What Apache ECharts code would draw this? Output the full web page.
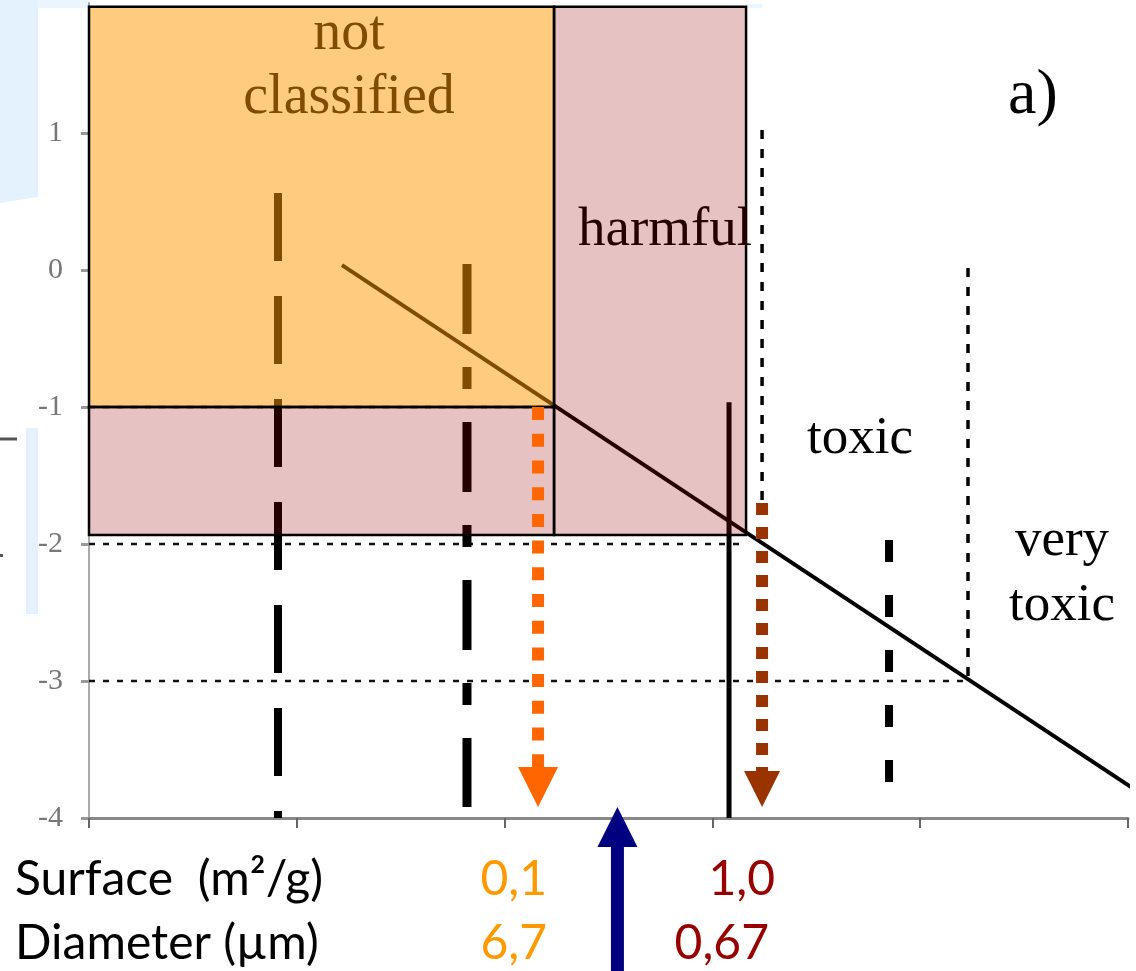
<!DOCTYPE html>
<html><head><meta charset="utf-8">
<script src="https://cdn.jsdelivr.net/npm/echarts@6/dist/echarts.min.js"></script>
<style>html,body{margin:0;padding:0;background:#fff}#chart{width:1136px;height:971px}</style>
</head><body><div id="chart"></div>
<script>
// ---------- data ----------
const xTickValues = [0, 1, 2, 3, 4, 5];
const yTickValues = [-4, -3, -2, -1, 0, 1];
// classification zones: [xFrom, xTo, yFrom, yTo]
const zoneNames = ['not classified', 'harmful (low)', 'harmful'];
const zoneBounds = [
  [0, 2.238, -1, 1.923],
  [0, 2.238, -1.934, -1],
  [2.238, 3.162, -1.934, 1.923]
];
const diagonalLine = [[1.2175, 0.036], [5.04, -3.80]];
const longDashLine = [[0.9095, 0.562], [0.9095, -4.0]];
const dashDotLine = [[1.819, 0.044], [1.819, -3.92]];
const shortDashLine = [[3.85, -1.971], [3.85, -3.774]];
const dottedLineA = [[3.239, 1.022], [3.239, -1.72]];
const dottedLineB = [[4.23, 0.015], [4.23, -3.0]];
const solidVertical = [[3.08, -0.964], [3.08, -4.0]];
const levelMinus1 = [[0, -1], [2.238, -1]];
const levelMinus2 = [[0, -2], [3.162, -2]];
const levelMinus3 = [[0, -3], [4.23, -3]];
const orangeArrow = [[2.161, -1.0], [2.161, -3.628]];
const orangeArrowHead = [[2.161, -3.774]];
const brownArrow = [[3.239, -1.70], [3.239, -3.657]];
const brownArrowHead = [[3.239, -3.788]];
const blueArrow = [[2.543, -5.15], [2.543, -4.2]];
const blueArrowHead = [[2.543, -4.066]];
const rowLabels = ['Surface  (m\u00b2/g)', 'Diameter (\u00b5m)'];
const surfaceValues = ['0,1', '1,0'];
const diameterValues = ['6,7', '0,67'];
const classLabels = ['not\nclassified', 'harmful', 'toxic', 'very\ntoxic', 'a)'];

// ---------- chart ----------
const chart = echarts.init(document.getElementById('chart'), null, {renderer: 'canvas'});
const zoneColors = ['rgba(255,153,0,0.5)', 'rgba(153,0,0,0.24)', 'rgba(153,0,0,0.24)'];

function lineSeries(name, data, color, width, type, z) {
  return {
    type: 'line', name, data, symbol: 'none', silent: true, clip: false, z,
    animation: false,
    lineStyle: {color, width, type, cap: 'butt'}
  };
}
function headSeries(name, data, color, size, rotate) {
  return {
    type: 'scatter', name, data, symbol: 'triangle', symbolSize: size,
    symbolRotate: rotate, clip: false, silent: true, z: 8, animation: false,
    itemStyle: {color, opacity: 1}
  };
}
function txt(text, x, y, font, fill, align, lineHeight) {
  return {
    type: 'text', z: 100, silent: true,
    style: {text, x, y, font, fill, textAlign: align, align: align,
      textVerticalAlign: 'middle', verticalAlign: 'middle', lineHeight: lineHeight}
  };
}
const serif = '"Liberation Serif", "DejaVu Serif", serif';
const sans = 'Lato, "Open Sans", sans-serif';

const option = {
  animation: false,
  backgroundColor: '#ffffff',
  grid: {left: 89, right: 8, top: 3, bottom: 153},
  xAxis: {
    type: 'value', min: 0, max: 5, interval: 1,
    axisLine: {show: true, onZero: false, lineStyle: {color: '#888', width: 3}},
    axisTick: {show: true, length: 10, customValues: xTickValues, lineStyle: {color: '#666', width: 2}},
    axisLabel: {show: false},
    splitLine: {show: false}
  },
  yAxis: {
    type: 'value', min: -4, max: 1.95, interval: 1,
    axisLine: {show: true, onZero: false, lineStyle: {color: '#aaa', width: 2}},
    axisTick: {show: true, length: 8, customValues: yTickValues, lineStyle: {color: '#999', width: 3}},
    axisLabel: {
      customValues: yTickValues, margin: 26, color: '#777',
      fontFamily: serif, fontSize: 30,
      formatter: v => (Number.isInteger(v) ? String(v) : '')
    },
    splitLine: {show: false}
  },
  graphic: [
    // pale artefacts of the original slide
    {type: 'polygon', z: 0, silent: true, shape: {points: [[0, 0], [38, 0], [38, 197], [0, 203]]}, style: {fill: '#e3f2fd'}},
    {type: 'rect', z: 0, silent: true, shape: {x: 38, y: 0, width: 52, height: 8}, style: {fill: '#eaf5fd'}},
    {type: 'rect', z: 0, silent: true, shape: {x: 746, y: 4, width: 16, height: 4}, style: {fill: '#eaf5fd'}},
    {type: 'rect', z: 0, silent: true, shape: {x: 26, y: 428, width: 12, height: 186}, style: {fill: '#e3f2fd'}},
    {type: 'line', z: 0, silent: true, shape: {x1: 0, y1: 439, x2: 17, y2: 439}, style: {stroke: '#555', lineWidth: 3}},
    {type: 'rect', z: 0, silent: true, shape: {x: 0, y: 554, width: 3, height: 3}, style: {fill: '#555'}},
    // class labels
    txt(classLabels[0], 349, 66, '56px ' + serif, '#7f4c00', 'center', 64),
    txt(classLabels[1], 578, 231, '55px ' + serif, '#250000', 'left'),
    txt(classLabels[2], 807, 439, '53px ' + serif, '#000', 'left'),
    txt(classLabels[3], 1062, 574, '53px ' + serif, '#000', 'center', 65),
    txt(classLabels[4], 1008, 96, '64px ' + serif, '#000', 'left'),
    // bottom table
    txt(rowLabels[0], 15, 880, '48px ' + sans, '#000', 'left'),
    txt(rowLabels[1], 15, 944, '48px ' + sans, '#000', 'left'),
    txt(surfaceValues[0], 547, 880, '48px ' + sans, '#ff9900', 'right'),
    txt(diameterValues[0], 547, 944, '48px ' + sans, '#ff9900', 'right'),
    txt(surfaceValues[1], 775, 880, '48px ' + sans, '#990000', 'right'),
    txt(diameterValues[1], 769, 944, '48px ' + sans, '#990000', 'right')
  ],
  series: [
    lineSeries('level -1', levelMinus1, '#111', 2.5, [6, 8], 2),
    lineSeries('level -2', levelMinus2, '#111', 2.5, [6, 8], 2),
    lineSeries('level -3', levelMinus3, '#111', 2.5, [6, 8], 2),
    lineSeries('dotted A', dottedLineA, '#000', 3.5, [9, 10], 2),
    lineSeries('dotted B', dottedLineB, '#000', 3.5, [9, 10], 2),
    lineSeries('long dash', longDashLine, '#000', 8, [68, 35], 3),
    lineSeries('dash dot', dashDotLine, '#000', 9, [70, 33, 22, 33], 3),
    lineSeries('short dash', shortDashLine, '#000', 8, [22, 33], 3),
    lineSeries('solid', solidVertical, '#000', 5, 'solid', 3),
    lineSeries('diagonal', diagonalLine, '#000', 4, 'solid', 3),
    {
      type: 'custom', name: 'zones', data: zoneBounds, z: 5, silent: true, clip: false,
      renderItem: function (params, api) {
        const p0 = api.coord([api.value(0), api.value(3)]);
        const p1 = api.coord([api.value(1), api.value(2)]);
        return {
          type: 'rect',
          shape: {x: p0[0], y: p0[1], width: p1[0] - p0[0], height: p1[1] - p0[1]},
          style: {fill: zoneColors[params.dataIndex], stroke: '#000', lineWidth: 2.5}
        };
      }
    },
    lineSeries('orange arrow', orangeArrow, '#ff6600', 12, [13, 13.7], 7),
    headSeries('orange head', orangeArrowHead, '#ff6600', [40, 40], 180),
    lineSeries('brown arrow', brownArrow, '#993300', 12, [12, 12], 7),
    headSeries('brown head', brownArrowHead, '#993300', [36, 36], 180),
    lineSeries('blue arrow', blueArrow, '#000080', 13, 'solid', 7),
    headSeries('blue head', blueArrowHead, '#000080', [40, 40], 0)
  ]
};
chart.setOption(option);
</script>
</body></html>
